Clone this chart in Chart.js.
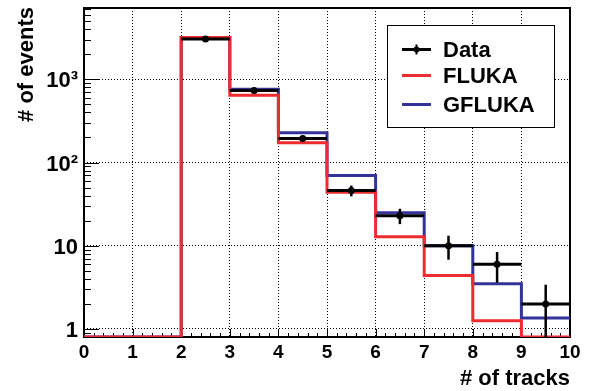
<!DOCTYPE html>
<html>
<head>
<meta charset="utf-8">
<script src="https://cdn.jsdelivr.net/npm/chart.js@4.4.1/dist/chart.umd.min.js"></script>
<style>
  html, body { margin: 0; padding: 0; background: #fff; }
  canvas { display: block; }
</style>
</head>
<body>
<canvas id="myChart" width="590" height="391"></canvas>
<script>
// histogram bins (# of tracks), edges 0..10
const binEdges = [0, 1, 2, 3, 4, 5, 6, 7, 8, 9, 10];
const dataCounts = [0, 0, 3060, 735, 195, 46, 23, 10, 6, 2];
const dataErrors = [0, 0, 55, 27, 14, 6.8, 4.8, 3.2, 2.4, 1.4];
const flukaCounts = [0, 0, 3180, 645, 173, 44, 12.8, 4.4, 1.25, 0];
const gflukaCounts = [0, 0, 3180, 760, 228, 70, 25, 10, 3.5, 1.35];
const seriesNames = ["Data", "FLUKA", "GFLUKA"];
const xTicks = [0, 1, 2, 3, 4, 5, 6, 7, 8, 9, 10];
const yTicks = [1, 10, 100, 1000];
const yTickLabels = ["1", "10", "10²", "10³"];
const yMin = 0.8;
const yMax = 7200;

const colors = {
  data: "#000000",
  fluka: "#ee2b2f",
  gfluka: "#33339a",
};
const FONT = "'Liberation Sans', Arial, sans-serif";

// step outline: one point per edge, last value repeated at the upper edge.
// empty bins sit on the frame floor like ROOT draws them
const toSteps = (counts) =>
  binEdges.map((x, i) => {
    const c = counts[Math.min(i, counts.length - 1)];
    return { x, y: c > 0 ? c : yMin };
  });

const dataPoints = dataCounts.map((y, i) => ({
  x: (binEdges[i] + binEdges[i + 1]) / 2,
  y: y > 0 ? y : null,
}));

const rootFrame = {
  id: "rootFrame",
  beforeDatasetsDraw(chart) {
    const { ctx, chartArea: { left, right, top, bottom }, scales: { x, y } } = chart;
    ctx.save();
    ctx.strokeStyle = "#000";
    ctx.lineWidth = 1;
    ctx.beginPath();
    // x ticks, inside the frame
    for (let i = 0; i <= 50; i++) {
      const px = Math.round(x.getPixelForValue(i * 0.2)) + 0.5;
      const len = i % 5 === 0 ? 8 : 4;
      ctx.moveTo(px, bottom);
      ctx.lineTo(px, bottom - len);
    }
    // y ticks (log), inside the frame
    [0.1, 1, 10, 100, 1000].forEach((d) => {
      for (let m = 1; m <= 9; m++) {
        const v = m * d;
        if (v < y.min || v > y.max) continue;
        const py = Math.round(y.getPixelForValue(v)) + 0.5;
        ctx.moveTo(left, py);
        ctx.lineTo(left + (m === 1 ? 15 : 7), py);
      }
    });
    ctx.stroke();
    ctx.lineWidth = 2;
    ctx.strokeRect(left, top, right - left, bottom - top);
    ctx.restore();
  },
};

const errorBars = {
  id: "errorBars",
  afterDatasetsDraw(chart) {
    const { ctx, chartArea: { left, right, top, bottom }, scales: { x, y } } = chart;
    ctx.save();
    ctx.beginPath();
    ctx.rect(left, top, right - left, bottom - top);
    ctx.clip();
    ctx.strokeStyle = colors.data;
    dataCounts.forEach((c, i) => {
      if (!c) return;
      const py = y.getPixelForValue(c);
      const xc = x.getPixelForValue((binEdges[i] + binEdges[i + 1]) / 2);
      ctx.lineWidth = 3;
      ctx.beginPath();
      ctx.moveTo(x.getPixelForValue(binEdges[i]), py);
      ctx.lineTo(x.getPixelForValue(binEdges[i + 1]), py);
      ctx.stroke();
      ctx.lineWidth = 2.5;
      ctx.beginPath();
      ctx.moveTo(xc, y.getPixelForValue(c + dataErrors[i]));
      ctx.lineTo(xc, y.getPixelForValue(Math.max(c - dataErrors[i], y.min)));
      ctx.stroke();
    });
    ctx.restore();

    // legend box
    ctx.save();
    ctx.fillStyle = "#fff";
    ctx.fillRect(387.5, 25.5, 167, 102);
    ctx.strokeStyle = "#000";
    ctx.lineWidth = 1;
    ctx.strokeRect(387.5, 25.5, 167, 102);
    const rows = [49.5, 75.5, 104.5];
    const lineColors = [colors.data, colors.fluka, colors.gfluka];
    chart.data.datasets.forEach((ds, i) => {
      const ly = rows[i];
      ctx.strokeStyle = lineColors[i];
      ctx.lineWidth = 3;
      ctx.beginPath();
      ctx.moveTo(402, ly);
      ctx.lineTo(431, ly);
      ctx.stroke();
      if (i === 0) {
        ctx.lineWidth = 2;
        ctx.beginPath();
        ctx.moveTo(416.5, ly - 5);
        ctx.lineTo(416.5, ly + 5);
        ctx.stroke();
        ctx.fillStyle = "#000";
        ctx.beginPath();
        ctx.arc(416.5, ly, 3, 0, Math.PI * 2);
        ctx.fill();
      }
      ctx.fillStyle = "#000";
      ctx.font = "bold 22px " + FONT;
      ctx.textAlign = "left";
      ctx.textBaseline = "alphabetic";
      ctx.fillText(ds.label, 443, ly + 7.5);
    });
    ctx.restore();
  },
  afterDraw(chart) {
    const { ctx, chartArea: { right, top } } = chart;
    ctx.save();
    ctx.fillStyle = "#000";
    ctx.font = "bold 22px " + FONT;
    ctx.textAlign = "right";
    ctx.textBaseline = "alphabetic";
    ctx.fillText("# of tracks", right, 385);
    ctx.translate(33, top - 1);
    ctx.rotate(-Math.PI / 2);
    ctx.fillText("# of events", 0, 0);
    ctx.restore();
  },
};

new Chart(document.getElementById("myChart"), {
  type: "line",
  data: {
    datasets: [
      {
        label: seriesNames[0],
        data: dataPoints,
        showLine: false,
        pointRadius: 3.5,
        pointBackgroundColor: colors.data,
        pointBorderWidth: 0,
        order: 0,
      },
      {
        label: seriesNames[1],
        data: toSteps(flukaCounts),
        stepped: "before",
        borderColor: colors.fluka,
        borderWidth: 3,
        pointRadius: 0,
        order: 1,
      },
      {
        label: seriesNames[2],
        data: toSteps(gflukaCounts),
        stepped: "before",
        borderColor: colors.gfluka,
        borderWidth: 3,
        pointRadius: 0,
        order: 2,
      },
    ],
  },
  options: {
    responsive: false,
    animation: false,
    devicePixelRatio: 1,
    layout: { padding: { top: 8, right: 20, left: 0, bottom: 0 } },
    plugins: {
      legend: { display: false },
      tooltip: { enabled: false },
    },
    scales: {
      x: {
        type: "linear",
        min: 0,
        max: 10,
        afterBuildTicks: (s) => {
          s.ticks = xTicks.map((value) => ({ value }));
        },
        afterFit: (s) => {
          s.height = 54;
          s.paddingLeft = 0;
          s.paddingRight = 0;
        },
        ticks: {
          color: "#000",
          font: { family: FONT, size: 19, weight: "bold" },
          padding: 4,
          maxRotation: 0,
        },
        grid: { color: "#000", lineWidth: 1, drawTicks: false },
        border: { display: false, dash: [1, 2] },
      },
      y: {
        type: "logarithmic",
        min: yMin,
        max: yMax,
        afterBuildTicks: (s) => {
          s.ticks = yTicks.map((value) => ({ value }));
        },
        afterFit: (s) => {
          s.width = 84;
          s.paddingTop = 0;
          s.paddingBottom = 0;
        },
        ticks: {
          callback: (v) => yTickLabels[yTicks.indexOf(v)],
          color: "#000",
          font: { family: FONT, size: 22, weight: "bold" },
          padding: 6,
          labelOffset: 2,
        },
        grid: { color: "#000", lineWidth: 1, drawTicks: false },
        border: { display: false, dash: [1, 2] },
      },
    },
  },
  plugins: [rootFrame, errorBars],
});
</script>
</body>
</html>
